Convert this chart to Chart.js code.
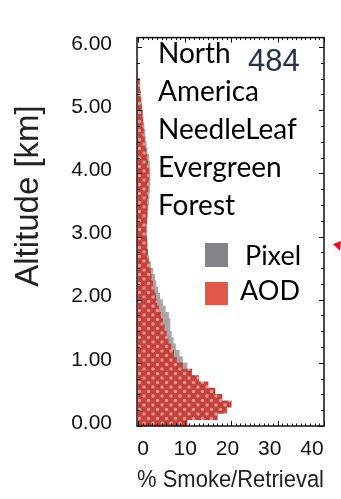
<!DOCTYPE html>
<html>
<head>
<meta charset="utf-8">
<script src="https://cdn.jsdelivr.net/npm/chart.js@4.4.0/dist/chart.umd.min.js"></script>
<style>
  html, body { margin: 0; padding: 0; background: #fff; }
</style>
</head>
<body>
<canvas id="chart" width="341" height="499"></canvas>
<script>
// altitude bins (bin centres, km)
const altitudeKm = [
  0.05, 0.15, 0.25, 0.35, 0.45, 0.55, 0.65, 0.75, 0.85, 0.95,
  1.05, 1.15, 1.25, 1.35, 1.45, 1.55, 1.65, 1.75, 1.85, 1.95,
  2.05, 2.15, 2.25, 2.35, 2.45, 2.55, 2.65, 2.75, 2.85, 2.95,
  3.05, 3.15, 3.25, 3.35, 3.45, 3.55, 3.65, 3.75, 3.85, 3.95,
  4.05, 4.15, 4.25, 4.35, 4.45, 4.55, 4.65, 4.75, 4.85, 4.95,
  5.05, 5.15, 5.25, 5.35, 5.45
];
// % of smoke per bin
const pixelPct = [
  9, 12, 13, 13.5, 13.5, 13, 12.5, 12, 11.5, 10.5,
  9.5, 8.8, 8.0, 7.5, 7.1, 6.8, 6.8, 6.5, 5.8, 5.2,
  4.6, 4.2, 3.8, 3.5, 3.1, 2.6, 2.2, 1.9, 1.7, 1.5,
  1.5, 1.6, 1.8, 2.0, 2.1, 2.2, 2.3, 2.4, 2.5, 2.5,
  2.5, 2.4, 2.2, 1.9, 1.7, 1.5, 1.4, 1.2, 1.0, 0.9,
  0.75, 0.6, 0.45, 0.3, 0.2
];
const aodPct = [
  10.5, 17, 19, 20, 18, 16.5, 15, 13, 11.5, 9.5,
  8.2, 7.6, 7.0, 6.4, 6.0, 5.6, 5.2, 4.8, 4.4, 4.0,
  3.7, 3.4, 3.1, 2.8, 2.6, 2.3, 2.1, 2.0, 1.9, 1.8,
  1.7, 1.7, 1.8, 1.8, 1.9, 1.9, 2.0, 2.1, 2.1, 2.2,
  2.2, 2.0, 1.8, 1.6, 1.4, 1.3, 1.1, 1.0, 0.9, 0.8,
  0.6, 0.5, 0.4, 0.3, 0.2
];
const yTickValues = [0, 1, 2, 3, 4, 5, 6];
const yTickLabels = ['0.00', '1.00', '2.00', '3.00', '4.00', '5.00', '6.00'];
const xTickValues = [0, 10, 20, 30, 40];
const regionLines = ['North', 'America', 'NeedleLeaf', 'Evergreen', 'Forest'];
const countLabel = '484';
const seriesNames = ['Pixel', 'AOD'];

// red cross-hatch fill for the AOD bars
function makeHatch() {
  const c = document.createElement('canvas');
  c.width = 9; c.height = 9;
  const g = c.getContext('2d');
  g.fillStyle = '#c4423d';
  g.fillRect(0, 0, 9, 9);
  g.fillStyle = '#e8928a';
  [[4.5, 4.5], [0, 0], [9, 0], [0, 9], [9, 9]].forEach(([x, y]) => {
    g.beginPath(); g.arc(x, y, 1.8, 0, Math.PI * 2); g.fill();
  });
  return g.createPattern(c, 'repeat');
}

const frameAndText = {
  id: 'frameAndText',
  afterDatasetsDraw(chart) {
    const { ctx, chartArea: a } = chart;
    const xs = chart.scales.x, ys = chart.scales.y;
    ctx.save();
    ctx.strokeStyle = '#111';
    ctx.lineWidth = 1.5;
    ctx.strokeRect(a.left, a.top, a.right - a.left, a.bottom - a.top);
    ctx.lineWidth = 1;
    for (let v = 0; v <= 40; v++) {
      const px = Math.round(xs.getPixelForValue(v)) + 0.5;
      const len = v % 10 === 0 ? 5 : 2.5;
      ctx.beginPath();
      ctx.moveTo(px, a.top); ctx.lineTo(px, a.top + len);
      ctx.moveTo(px, a.bottom); ctx.lineTo(px, a.bottom - len);
      ctx.stroke();
    }
    for (let v = 0; v <= 6; v += 0.25) {
      const py = Math.round(ys.getPixelForValue(v)) + 0.5;
      const len = Number.isInteger(v) ? 5 : 3;
      ctx.beginPath();
      ctx.moveTo(a.right, py); ctx.lineTo(a.right - len, py);
      ctx.moveTo(a.left, py); ctx.lineTo(a.left + len, py);
      ctx.stroke();
    }
    ctx.restore();
  },
  afterDraw(chart) {
    const ctx = chart.ctx;
    ctx.save();
    // y axis title
    ctx.translate(38, 196);
    ctx.rotate(-Math.PI / 2);
    ctx.fillStyle = '#222';
    ctx.font = '33px "Liberation Sans", Arial, sans-serif';
    ctx.textAlign = 'center';
    ctx.textBaseline = 'alphabetic';
    ctx.fillText('Altitude [km]', 0, 0);
    ctx.restore();

    ctx.save();
    ctx.fillStyle = '#000';
    ctx.font = '28px Lato, "Open Sans", sans-serif';
    ctx.textBaseline = 'alphabetic';
    regionLines.forEach((t, i) => ctx.fillText(t, 158, 63 + i * 38));

    ctx.fillStyle = '#263046';
    ctx.font = '31px "Liberation Sans", Arial, sans-serif';
    ctx.fillText(countLabel, 248, 71);

    // legend
    ctx.fillStyle = '#83838c';
    ctx.fillRect(205, 243, 23, 24);
    ctx.fillStyle = '#e2574c';
    ctx.fillRect(205, 282, 23, 23);
    ctx.fillStyle = '#000';
    ctx.font = '27px Lato, "Open Sans", sans-serif';
    ctx.fillText(seriesNames[0], 245, 265);
    ctx.fillText(seriesNames[1], 240, 300);

    // small red marker at the right edge
    ctx.fillStyle = '#e8131b';
    ctx.beginPath();
    ctx.moveTo(333, 244); ctx.lineTo(341, 241); ctx.lineTo(340, 251);
    ctx.closePath(); ctx.fill();
    ctx.restore();
  }
};

const ctx = document.getElementById('chart').getContext('2d');
const hatch = makeHatch();

new Chart(ctx, {
  type: 'bar',
  data: {
    datasets: [
      {
        label: seriesNames[0],
        data: altitudeKm.map((y, i) => ({ x: pixelPct[i], y })),
        backgroundColor: '#aaa6a6',
        grouped: false,
        order: 1,
        barPercentage: 1,
        categoryPercentage: 1
      },
      {
        label: seriesNames[1],
        data: altitudeKm.map((y, i) => ({ x: aodPct[i], y })),
        backgroundColor: hatch,
        grouped: false,
        order: 0,
        barPercentage: 1,
        categoryPercentage: 1
      }
    ]
  },
  options: {
    indexAxis: 'y',
    responsive: false,
    animation: false,
    devicePixelRatio: 1,
    layout: { padding: { top: 13, right: 17, left: 0, bottom: 0 } },
    plugins: { legend: { display: false }, tooltip: { enabled: false } },
    scales: {
      x: { type: 'linear', min: -0.3, max: 40, display: false },
      xLab: {
        type: 'linear',
        position: 'bottom',
        min: -1.42,
        max: 42.84,
        grid: { display: false, drawTicks: false },
        border: { display: false },
        afterBuildTicks: s => { s.ticks = xTickValues.map(v => ({ value: v })); },
        afterFit: s => { s.height = 73; },
        ticks: {
          padding: 11,
          maxRotation: 0,
          autoSkip: false,
          color: '#111',
          font: { family: '"Liberation Sans", Arial, sans-serif', size: 21 }
        },
        title: {
          display: true,
          text: '% Smoke/Retrieval',
          color: '#222',
          font: { family: '"Liberation Sans", Arial, sans-serif', size: 24.5 },
          padding: { top: 0, bottom: 4 }
        }
      },
      y: {
        type: 'linear',
        position: 'left',
        offset: false,
        min: 0,
        max: 6.15,
        grid: { display: false, drawTicks: false, offset: false },
        border: { display: false },
        afterBuildTicks: s => { s.ticks = yTickValues.map(v => ({ value: v })); },
        afterFit: s => { s.width = 137; },
        ticks: {
          padding: 25,
          labelOffset: -3,
          autoSkip: false,
          color: '#111',
          font: { family: '"Liberation Sans", Arial, sans-serif', size: 21 },
          callback: (v, i) => yTickLabels[i]
        }
      }
    }
  },
  plugins: [frameAndText]
});
</script>
</body>
</html>
